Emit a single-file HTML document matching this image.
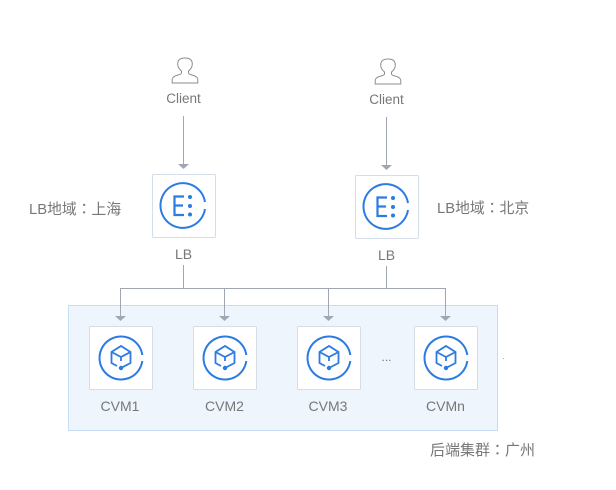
<!DOCTYPE html>
<html><head><meta charset="utf-8">
<style>
html,body{margin:0;padding:0;background:#fff}
svg{display:block}
text{font-family:"Liberation Sans","Noto Sans CJK SC",sans-serif;fill:#777}
.c{font-family:"Liberation Sans","Noto Sans CJK TC",sans-serif}
</style></head><body>
<svg width="616" height="490" viewBox="0 0 616 490" xmlns="http://www.w3.org/2000/svg">
<defs>
<g id="user" fill="none" stroke="#8a8f96" stroke-width="1">
<path d="M-3.500 13C-5.500 11.500 -7.300 9 -7.300 6C-7.300 2 -4.500 0 0 0C4.500 0 7.300 2 7.300 6C7.300 9 5.500 11.500 3.500 13V15C3.500 16 5 16.500 7 17C10 17.800 12.800 19 12.800 21.500V25H-12.800V21.500C-12.800 19 -10 17.800 -7 17C-5 16.500 -3.500 16 -3.500 15Z"/>
</g>
<g id="box">
<rect x="0.500" y="0.500" width="63" height="63" rx="1" fill="#fff" stroke="#d5dde8"/>
</g>
<g id="lb">
<use href="#box"/>
<g transform="translate(31,32)">
<path d="M22 -4A22.400 22.400 0 1 0 22 3" fill="none" stroke="#2b7be3" stroke-width="2"/>
<path d="M1 -9.500H-8.500V9H1M-8.500 -0.500H0" fill="none" stroke="#2b7be3" stroke-width="2.200"/>
<circle cx="7" cy="-9" r="2" fill="#2b7be3"/>
<circle cx="7" cy="0" r="2" fill="#2b7be3"/>
<circle cx="7" cy="8.500" r="2" fill="#2b7be3"/>
</g>
</g>
<g id="cvm">
<use href="#box"/>
<g transform="translate(32,32)">
<path d="M21.300 -3A21.500 21.500 0 1 0 21.300 3" fill="none" stroke="#2b7be3" stroke-width="2"/>
<path d="M-4 8L-9.500 5V-6L0 -12L9.500 -6V5L0 10" fill="none" stroke="#2b7be3" stroke-width="1.800" stroke-linejoin="miter"/>
<path d="M-9.500 -6L0 -1L9.500 -6M0 -1V3" fill="none" stroke="#2b7be3" stroke-width="1.800"/>
<circle cx="0" cy="10" r="2.200" fill="#2b7be3"/>
</g>
</g>
<g id="ah"><path d="M-5.500 -5H5.500L0 0Z" fill="#a0a7b3"/></g>
</defs>

<rect x="68.500" y="305.500" width="429" height="125" fill="#eef5fd" stroke="#c5dcf3"/>

<g fill="none" stroke="#a0a7b3" stroke-width="1">
<path d="M183.500 116V165"/>
<path d="M386.500 117V166"/>
<path d="M183.500 265V288.500"/>
<path d="M386.500 266V288.500"/>
<path d="M120.500 316V288.500H445.500V316"/>
<path d="M224.500 288.500V316"/>
<path d="M328.500 288.500V316"/>
</g>
<use href="#ah" x="183.500" y="169"/>
<use href="#ah" x="386.500" y="170"/>
<use href="#ah" x="120.500" y="321"/>
<use href="#ah" x="224.500" y="321"/>
<use href="#ah" x="328.500" y="321"/>
<use href="#ah" x="445.500" y="321"/>

<use href="#user" x="185" y="58"/>
<use href="#user" x="388" y="59"/>
<text x="183.500" y="103" font-size="13.500" text-anchor="middle">Client</text>
<text x="386.500" y="104" font-size="13.500" text-anchor="middle">Client</text>

<use href="#lb" x="152" y="174"/>
<use href="#lb" x="355" y="175"/>
<text x="183.500" y="259" font-size="14" text-anchor="middle">LB</text>
<text x="386.500" y="260" font-size="14" text-anchor="middle">LB</text>
<text x="29" y="214" font-size="14.800">LB地域<tspan class="c">：</tspan>上海</text>
<text x="437" y="213" font-size="14.800">LB地域<tspan class="c">：</tspan>北京</text>

<use href="#cvm" x="89" y="326"/>
<use href="#cvm" x="193" y="326"/>
<use href="#cvm" x="297" y="326"/>
<use href="#cvm" x="414" y="326"/>
<text x="120" y="411" font-size="14" text-anchor="middle">CVM1</text>
<text x="224.500" y="411" font-size="14" text-anchor="middle">CVM2</text>
<text x="328" y="411" font-size="14" text-anchor="middle">CVM3</text>
<text x="445.500" y="411" font-size="14" text-anchor="middle">CVMn</text>
<text x="386.500" y="361" font-size="12" text-anchor="middle">...</text>
<rect x="503" y="358" width="1" height="1" fill="#aaa"/>
<text x="430" y="455" font-size="15">后端集群<tspan class="c">：</tspan>广州</text>
</svg>
</body></html>
